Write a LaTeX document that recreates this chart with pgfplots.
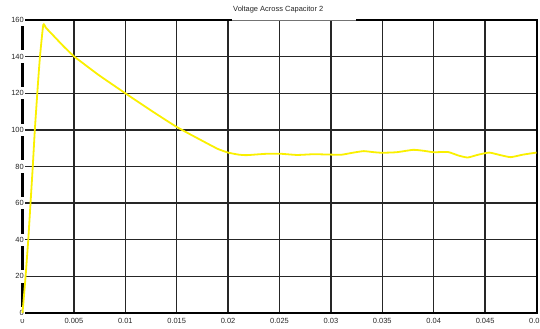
\documentclass[border=0pt]{standalone}
\usepackage{pgfplots}
\pgfplotsset{compat=1.18}
\usepackage{fontspec}
\setmainfont{Liberation Sans}
\begin{document}
\begin{tikzpicture}
\begin{axis}[
  at={(0,0)}, anchor=south west,
  scale only axis, width=514bp, height=293bp,
  xmin=0, xmax=0.05, ymin=0, ymax=160,
  xtick={0,0.005,0.01,0.015,0.02,0.025,0.03,0.035,0.04,0.045,0.05},
  xticklabels={0,0.005,0.01,0.015,0.02,0.025,0.03,0.035,0.04,0.045,0.05},
  ytick={0,20,40,60,80,100,120,140,160},
  yticklabels={0,20,40,60,80,100,120,140,160},
  major tick length=0pt,
  grid=major,
  major grid style={black!85, line width=1.3bp},
  axis line style={black, line width=2bp},
  tick label style={font=\fontsize{7.5}{8}\selectfont, text=black!85},
  xticklabel style={yshift=-1.5bp},
  yticklabel style={fill=white, inner xsep=1bp, inner ysep=3.5bp, xshift=2.5bp},
  clip=false,
]
\addplot[draw={rgb,255:red,250;green,240;blue,0}, line width=1.8bp, smooth, tension=0.3] coordinates {
(0,0) (0.0003,20) (0.00056,40) (0.00078,60) (0.001,80) (0.0012,100) (0.0015,125) (0.0017,140) (0.00202,157.3)
(0.0023,155.6) (0.003,151.5) (0.004,145.6) (0.005,140.2) (0.006,135.9) (0.0075,129.6) (0.01,120)
(0.0125,110.6) (0.015,101.6) (0.0175,94.0) (0.019,89.6) (0.020,87.6) (0.021,86.5) (0.0218,86.2)
(0.0236,86.9) (0.025,87.0) (0.0267,86.3) (0.0283,86.7) (0.030,86.5) (0.031,86.4) (0.0322,87.6)
(0.0332,88.4) (0.0342,87.8) (0.035,87.5) (0.0364,87.8) (0.038,89.1) (0.039,88.6) (0.040,87.8)
(0.0414,87.9) (0.0424,86.0) (0.0433,84.9) (0.0443,86.4) (0.0454,87.6) (0.0465,86.2) (0.0475,85.1)
(0.0487,86.5) (0.050,87.6)
};
\end{axis}
\fill[white] (209.5bp,292.4bp) rectangle (333.5bp,316bp);
\draw[black!55, line width=0.6bp] (209.5bp,292.9bp) -- (333.5bp,292.9bp);
\node[anchor=west, inner sep=0pt, font=\fontsize{7.5}{8}\selectfont, text=black!85] at (210.5bp,303bp) {Voltage Across Capacitor 2};
\pgfresetboundingbox
\useasboundingbox (-22.5bp,-16bp) rectangle (517.5bp,313bp);
\end{tikzpicture}
\end{document}
